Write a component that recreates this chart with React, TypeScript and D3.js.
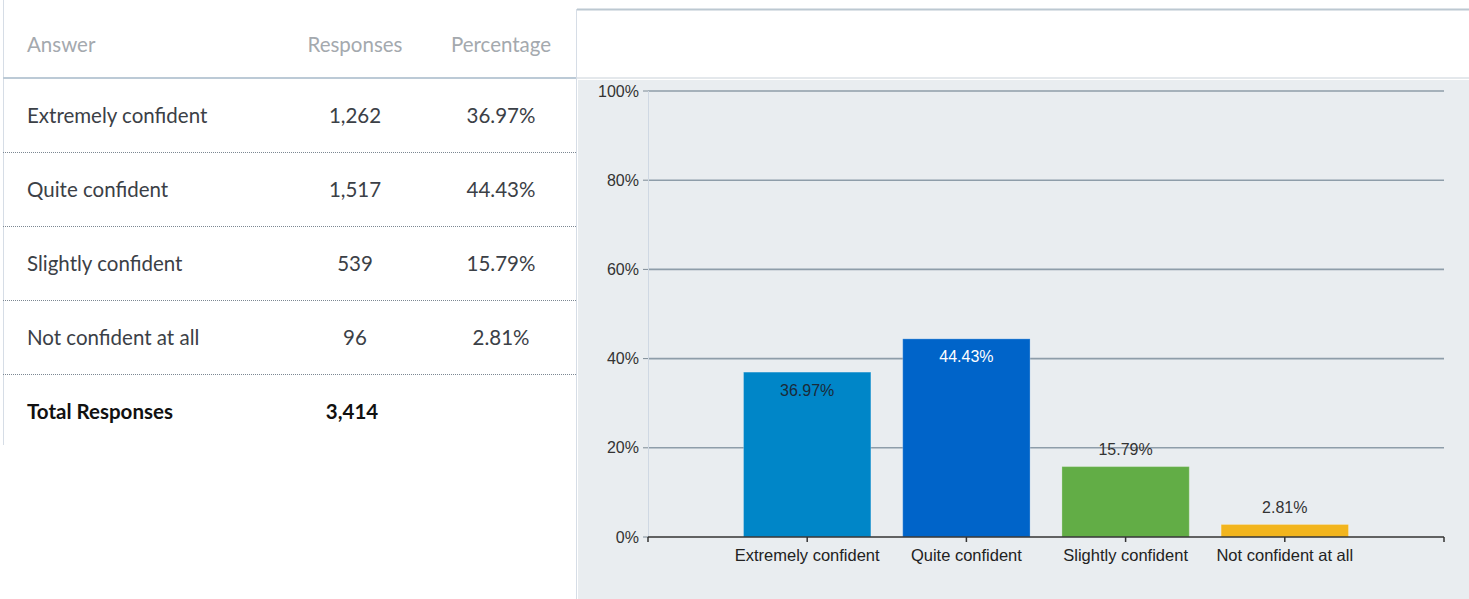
import React from "react";
import * as d3 from "d3";

const answers = ["Extremely confident", "Quite confident", "Slightly confident", "Not confident at all"];
const responses = [1262, 1517, 539, 96];
const percentages = [36.97, 44.43, 15.79, 2.81];
const totalResponses = 3414;
const yTicks = [0, 20, 40, 60, 80, 100];
const headers = ["Answer", "Responses", "Percentage"];

const barColors = ["#0086c8", "#0064c9", "#62ad46", "#f2b51e"];
const labelColors = ["#1b2a38", "#ffffff", "#333333", "#333333"];

const W = 1469;
const H = 599;

export default function App() {
  const fmt = d3.format(",");
  const x = d3.scalePoint<string>().domain(answers).range([648, 1444]).padding(1);
  const step = x.step();
  const barW = step * 0.8;
  const y = d3.scaleLinear().domain([0, 100]).range([537, 91]);

  const tableFont = "Lato, 'Open Sans', sans-serif";
  const chartFont = "'Liberation Sans', Arial, sans-serif";
  const rowY = (i: number) => 115 + i * 74;

  return (
    <svg
      width={W}
      height={H}
      style={{ position: "fixed", left: 0, top: 0, background: "#fff" }}
    >
      {/* table borders */}
      <line x1={3.5} x2={3.5} y1={0} y2={445} stroke="#d6dde6" strokeWidth={1} />
      <line x1={576.5} x2={576.5} y1={9} y2={H} stroke="#d6dde6" strokeWidth={1} />
      <line x1={577} x2={W} y1={9.5} y2={9.5} stroke="#bcc8d1" strokeWidth={2} />
      <line x1={3} x2={576} y1={78} y2={78} stroke="#bccad6" strokeWidth={2} />
      <line x1={577} x2={W} y1={78} y2={78} stroke="#c9d1d8" strokeWidth={1} />

      {/* header */}
      <g fontFamily={tableFont} fontSize={20.5} fill="#a4a9ae">
        <text x={27} y={44} dominantBaseline="central">{headers[0]}</text>
        <text x={355} y={44} textAnchor="middle" dominantBaseline="central">{headers[1]}</text>
        <text x={501} y={44} textAnchor="middle" dominantBaseline="central">{headers[2]}</text>
      </g>

      {/* rows */}
      <g fontFamily={tableFont} fontSize={20.5} fill="#3b4046">
        {answers.map((a, i) => (
          <g key={a}>
            <text x={27} y={rowY(i)} dominantBaseline="central">{a}</text>
            <text x={355} y={rowY(i)} textAnchor="middle" dominantBaseline="central">{fmt(responses[i])}</text>
            <text x={501} y={rowY(i)} textAnchor="middle" dominantBaseline="central">{percentages[i].toFixed(2)}%</text>
            <line
              x1={3}
              x2={576}
              y1={rowY(i) + 37.5}
              y2={rowY(i) + 37.5}
              stroke="#7c8792"
              strokeWidth={1}
              strokeDasharray="1,1"
            />
          </g>
        ))}
      </g>
      <g fontFamily={tableFont} fontSize={20.5} fontWeight={700} fill="#111">
        <text x={27} y={rowY(4)} dominantBaseline="central">Total Responses</text>
        <text x={352} y={rowY(4)} textAnchor="middle" dominantBaseline="central">{fmt(totalResponses)}</text>
      </g>

      {/* chart panel */}
      <rect x={578} y={80} width={W - 578} height={H - 80} fill="#e9edf0" />

      {/* grid */}
      {yTicks.filter((t) => t > 0).map((t) => (
        <line key={t} x1={648} x2={1444} y1={y(t)} y2={y(t)} stroke="#8e9da9" strokeWidth={1.6} />
      ))}
      <line x1={648.5} x2={648.5} y1={y(100)} y2={y(0)} stroke="#cfd8e3" strokeWidth={1} />
      {yTicks.map((t) => (
        <g key={"yt" + t}>
          <line x1={643} x2={648} y1={y(t)} y2={y(t)} stroke="#7d8a95" strokeWidth={1} />
          <text
            x={639}
            y={y(t)}
            textAnchor="end"
            dominantBaseline="central"
            fontFamily={chartFont}
            fontSize={16}
            fill="#333"
          >
            {t}%
          </text>
        </g>
      ))}

      {/* bars */}
      {answers.map((a, i) => {
        const cx = x(a) as number;
        const top = y(percentages[i]);
        const inside = percentages[i] > 30;
        return (
          <g key={"b" + a}>
            <rect
              x={cx - barW / 2}
              y={top}
              width={barW}
              height={y(0) - top}
              fill={barColors[i]}
              stroke="rgba(255,255,255,0.25)"
              strokeWidth={1}
            />
            <text
              x={cx}
              y={inside ? top + 18 : top - 17}
              textAnchor="middle"
              dominantBaseline="central"
              fontFamily={chartFont}
              fontSize={16}
              fill={labelColors[i]}
            >
              {percentages[i].toFixed(2)}%
            </text>
          </g>
        );
      })}

      {/* x axis */}
      <line x1={648} x2={1444} y1={537} y2={537} stroke="#333" strokeWidth={1.5} />
      {[648, ...answers.map((a) => x(a) as number), 1444].map((px, i) => (
        <line key={"xt" + i} x1={px} x2={px} y1={537} y2={542} stroke="#333" strokeWidth={1.5} />
      ))}
      {answers.map((a) => (
        <text
          key={"xl" + a}
          x={x(a) as number}
          y={555}
          textAnchor="middle"
          dominantBaseline="central"
          fontFamily={chartFont}
          fontSize={16.5}
          fill="#222"
        >
          {a}
        </text>
      ))}
    </svg>
  );
}
